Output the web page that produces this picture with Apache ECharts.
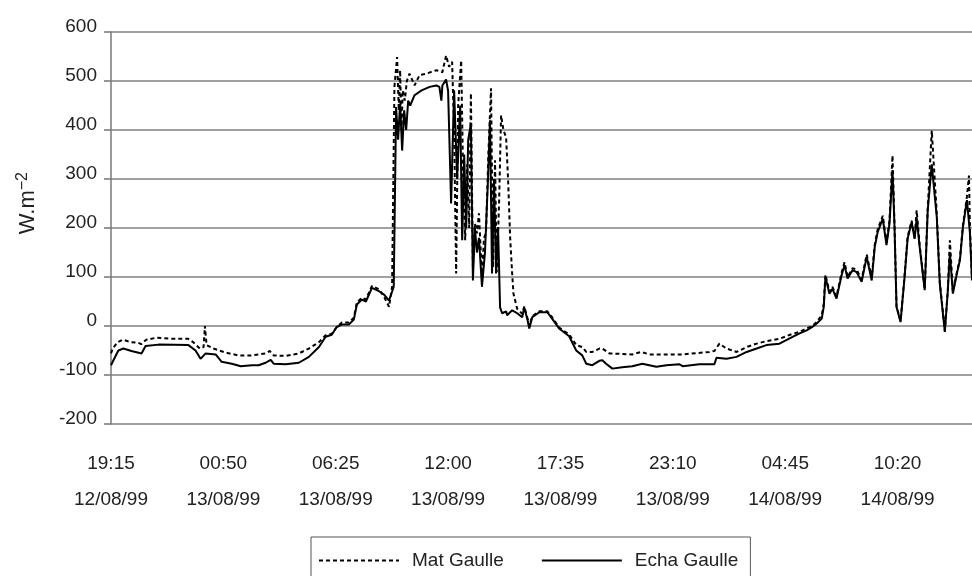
<!DOCTYPE html>
<html>
<head>
<meta charset="utf-8">
<script src="https://cdn.jsdelivr.net/npm/echarts@6/dist/echarts.min.js"></script>
<style>
	html, body { margin: 0; padding: 0; background: #fff; }
	#chart { width: 972px; height: 576px; }
</style>
</head>
<body>
<div id="chart"></div>
<script>
	// minutes since 19:15 12/08/99
	var matTime = [0, 5, 20, 35, 60, 80, 90, 105, 135, 180, 230, 245, 265, 276, 280, 285, 305, 340, 380, 420, 460, 473, 485, 520, 560, 590, 620, 640, 658, 673,
		688, 709, 724, 733, 748, 760, 778, 799, 814, 829, 838, 845, 853, 858, 862, 866, 870, 876, 882, 890, 905, 920, 940, 970, 988,
		999, 1008, 1017, 1023, 1029, 1035, 1044, 1050, 1056, 1062, 1068, 1073, 1079, 1085, 1091, 1097, 1106, 1112, 1118, 1125, 1133, 1139, 1145, 1150, 1157,
		1163, 1170, 1178, 1184, 1190, 1196, 1200, 1205, 1211, 1226, 1232, 1242, 1247, 1256, 1277, 1301, 1315, 1336, 1366, 1387, 1405, 1417, 1435, 1456,
		1465, 1486, 1554, 1581, 1605, 1704, 1784, 1799, 1814, 1835, 1865, 1895, 1925, 1954, 1993, 2032, 2053, 2074, 2091, 2104, 2119, 2125, 2130, 2142,
		2151, 2163, 2178, 2187, 2196, 2211, 2223, 2238, 2253, 2268, 2277, 2286, 2301, 2312, 2321, 2330, 2336, 2342, 2354, 2366, 2375, 2387, 2396, 2402,
		2411, 2426, 2435, 2447, 2462, 2471, 2486, 2495, 2501, 2510, 2522, 2531, 2540, 2552, 2558, 2561, 2567];
	var matVal = [-56, -46, -33, -28, -33, -34, -37, -28, -24, -26, -26, -33, -46, -43, 0, -39, -46, -54, -60, -60, -56, -51, -60, -61, -56, -46, -33, -19, -16, -2,
		7, 7, 17, 48, 58, 54, 82, 75, 60, 39, 80, 488, 549, 440, 522, 400, 481, 460, 500, 515, 491, 512, 515, 522, 518,
		552, 529, 539, 400, 107, 450, 542, 300, 175, 330, 200, 475, 120, 210, 189, 230, 100, 180, 189, 350, 485, 120, 338, 110, 250,
		430, 400, 385, 297, 181, 107, 66, 69, 35, 25, 40, 15, 0, 20, 30, 30, 18, -3, -17, -39, -43, -53, -53, -46,
		-46, -56, -58, -53, -58, -58, -53, -51, -36, -46, -53, -43, -36, -31, -26, -16, -12, -5, 0, 8, 22, 45, 105, 70,
		80, 60, 108, 130, 100, 118, 115, 95, 146, 98, 166, 198, 225, 170, 215, 348, 205, 40, 10, 103, 182, 215, 180, 236,
		165, 75, 240, 399, 230, 90, -10, 75, 175, 70, 110, 138, 205, 265, 307, 195, 95];

	var echaTime = [0, 5, 22, 37, 61, 91, 103, 142, 231, 252, 267, 282, 312, 330, 360, 387, 420, 440, 461, 476, 485, 521, 560, 590, 620, 640, 658, 673,
		688, 709, 724, 733, 748, 760, 778, 799, 814, 829, 843, 850, 856, 862, 868, 874, 880, 886, 892, 905, 926, 950, 970, 979, 985, 988,
		999, 1005, 1014, 1023, 1032, 1041, 1047, 1053, 1059, 1065, 1073, 1079, 1085, 1091, 1097, 1106, 1115, 1124, 1130, 1136, 1142, 1148, 1154,
		1160, 1166, 1178, 1181, 1196, 1211, 1226, 1232, 1242, 1247, 1256, 1277, 1301, 1315, 1336, 1366, 1387, 1405, 1417, 1435, 1456,
		1465, 1476, 1495, 1524, 1554, 1584, 1605, 1626, 1656, 1695, 1704, 1754, 1799, 1805, 1835, 1865, 1895, 1925, 1954, 1993, 2032, 2053, 2074,
		2091, 2104, 2119, 2125, 2130, 2142, 2151, 2163, 2178, 2187, 2196, 2211, 2223, 2238, 2253, 2268, 2277, 2286, 2301, 2312, 2321, 2330, 2336,
		2342, 2354, 2366, 2375, 2387, 2396, 2402, 2411, 2426, 2435, 2447, 2462, 2471, 2486, 2495, 2501, 2510, 2522, 2531, 2540, 2552, 2561, 2567];
	var echaVal = [-80, -73, -50, -46, -51, -56, -41, -38, -39, -50, -67, -56, -58, -73, -77, -82, -80, -80, -75, -69, -77, -78, -75, -63, -43, -22, -18, -2,
		3, 3, 13, 44, 54, 50, 78, 71, 64, 52, 80, 447, 380, 454, 358, 440, 400, 460, 450, 471, 481, 488, 491, 488, 460, 491,
		503, 480, 250, 481, 300, 450, 175, 350, 200, 380, 413, 93, 200, 150, 180, 80, 150, 300, 420, 107, 300, 107, 202,
		38, 26, 30, 22, 32, 26, 18, 38, 12, -5, 18, 28, 28, 15, -5, -21, -50, -60, -77, -80, -71,
		-70, -77, -87, -84, -82, -77, -80, -83, -80, -78, -82, -78, -78, -65, -67, -63, -53, -46, -39, -36, -22, -15, -9,
		-2, 5, 15, 39, 100, 66, 76, 56, 103, 124, 97, 114, 110, 90, 141, 93, 161, 192, 219, 165, 209, 318, 202,
		39, 8, 100, 178, 212, 178, 220, 161, 73, 236, 330, 222, 86, -12, 73, 150, 66, 107, 134, 202, 257, 188, 93];

	var tickTimes = ['19:15', '00:50', '06:25', '12:00', '17:35', '23:10', '04:45', '10:20'];
	var tickDates = ['12/08/99', '13/08/99', '13/08/99', '13/08/99', '13/08/99', '13/08/99', '14/08/99', '14/08/99'];
	var tickStep = 335;

	var font = '"Liberation Sans", Arial, sans-serif';

	function pairs(t, v) {
		var out = [];
		for (var i = 0; i < t.length; i++) {
			out.push([t[i], v[i]]);
		}
		return out;
	}

	var chart = echarts.init(document.getElementById('chart'));
	var option = {
		animation: false,
		backgroundColor: '#fff',
		grid: {
			left: 111,
			right: 0,
			top: 32,
			bottom: 152
		},
		xAxis: {
			type: 'value',
			min: 0,
			max: 2567,
			interval: tickStep,
			axisLine: { show: false },
			axisTick: { show: false },
			splitLine: { show: false },
			axisLabel: {
				margin: 22,
				fontFamily: font,
				fontSize: 19,
				lineHeight: 36,
				color: '#222',
				showMaxLabel: false,
				formatter: function (value) {
					var i = Math.round(value / tickStep);
					if (Math.abs(value - i * tickStep) > 1 || !tickTimes[i]) {
						return '';
					}
					return tickTimes[i] + '\n' + tickDates[i];
				}
			}
		},
		yAxis: {
			type: 'value',
			min: -200,
			max: 600,
			interval: 100,
			axisLine: {
				show: true,
				lineStyle: { color: '#777', width: 1.5 }
			},
			axisTick: {
				show: true,
				length: 7,
				lineStyle: { color: '#777', width: 1.5 }
			},
			axisLabel: {
				margin: 14,
				fontFamily: font,
				fontSize: 19,
				color: '#222',
				verticalAlign: 'bottom',
				lineHeight: 10
			},
			splitLine: {
				show: true,
				lineStyle: { color: '#808080', width: 1.5 }
			}
		},
		legend: {
			left: 311,
			top: 537,
			orient: 'horizontal',
			borderColor: '#555',
			borderWidth: 1,
			padding: [14, 12, 30, 7],
			itemWidth: 80,
			itemHeight: 14,
			itemGap: 37,
			itemStyle: { opacity: 0 },
			textStyle: {
				fontFamily: font,
				fontSize: 19,
				color: '#222',
				padding: [0, 0, 0, 8]
			},
			data: ['Mat Gaulle', 'Echa Gaulle']
		},
		graphic: [{
			type: 'text',
			left: 15,
			top: 172,
			rotation: Math.PI / 2,
			style: {
				text: 'W.m{sup|−2}',
				fontFamily: font,
				fontSize: 22,
				fill: '#222',
				rich: {
					sup: {
						fontFamily: font,
						fontSize: 16,
						verticalAlign: 'top',
						padding: [0, 0, 10, 0]
					}
				}
			}
		}],
		series: [{
			name: 'Mat Gaulle',
			type: 'line',
			data: pairs(matTime, matVal),
			symbol: 'none',
			color: '#000',
			lineStyle: { color: '#000', width: 2, type: [4, 3] }
		}, {
			name: 'Echa Gaulle',
			type: 'line',
			data: pairs(echaTime, echaVal),
			symbol: 'none',
			color: '#000',
			lineStyle: { color: '#000', width: 2, type: 'solid' }
		}]
	};
	chart.setOption(option);
</script>
</body>
</html>
